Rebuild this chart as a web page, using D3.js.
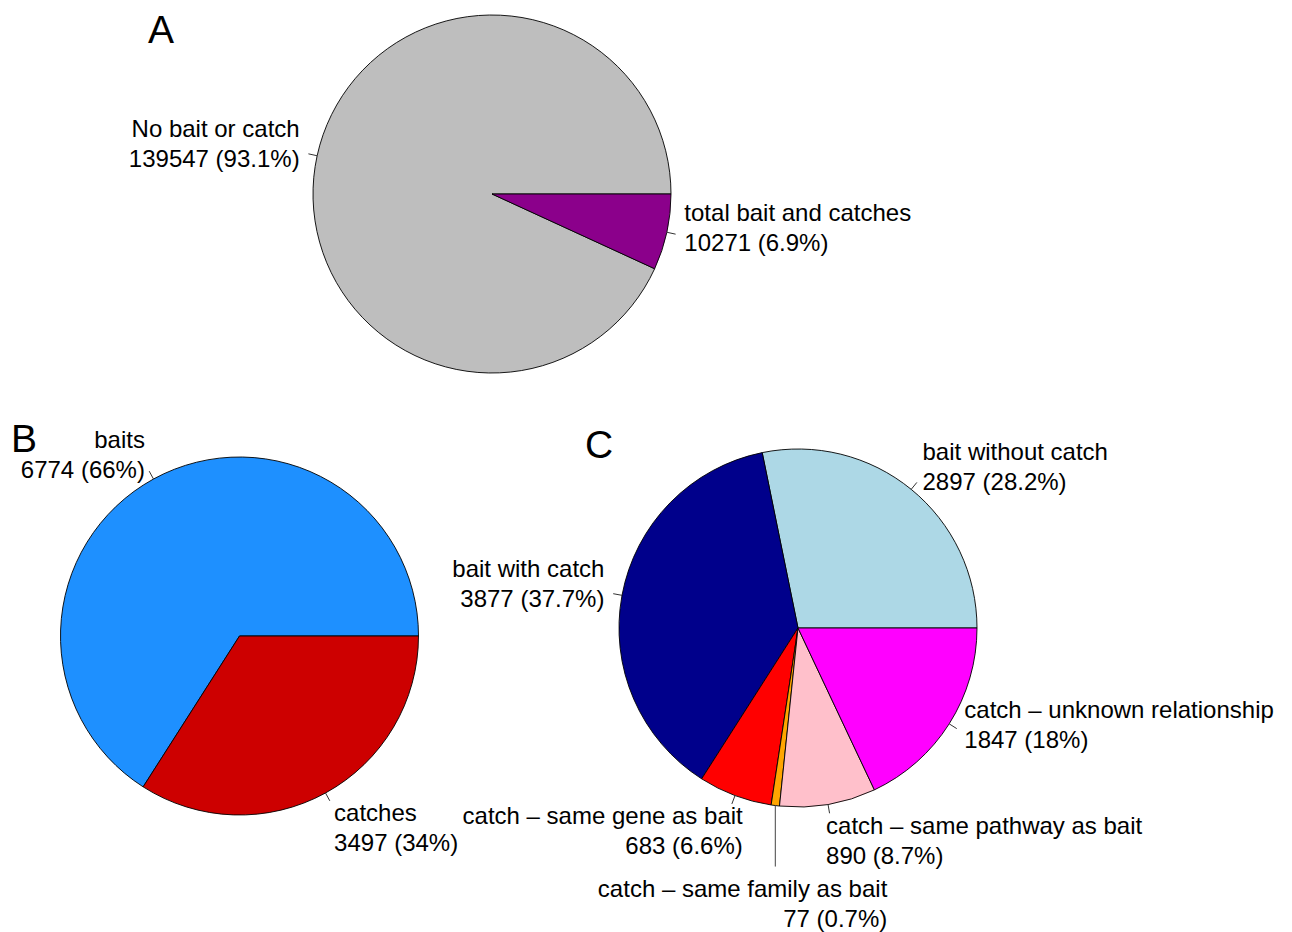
<!DOCTYPE html>
<html>
<head>
<meta charset="utf-8">
<script src="https://cdn.jsdelivr.net/npm/d3@7"></script>
<style>
  html, body { margin: 0; padding: 0; background: #fff; }
  svg { display: block; }
  text { font-family: "Liberation Sans", Arial, Helvetica, sans-serif; fill: #000; }
</style>
</head>
<body>
<svg id="chart" width="1292" height="932"></svg>
<script>
// ---- data ----
// Panel A: all proteins
const overviewNames  = ["No bait or catch", "total bait and catches"];
const overviewValues = [139547, 10271];
const overviewColors = ["#BEBEBE", "#8B008B"];

// Panel B: baits vs catches
const roleNames  = ["baits", "catches"];
const roleValues = [6774, 3497];
const roleColors = ["#1E90FF", "#CD0000"];

// Panel C: breakdown by relationship
const detailNames  = [
  "bait without catch",
  "bait with catch",
  "catch \u2013 same gene as bait",
  "catch \u2013 same family as bait",
  "catch \u2013 same pathway as bait",
  "catch \u2013 unknown relationship"
];
const detailValues = [2897, 3877, 683, 77, 890, 1847];
const detailColors = ["#ADD8E6", "#00008B", "#FF0000", "#FFA500", "#FFC0CB", "#FF00FF"];

const panelLetters = ["A", "B", "C"];

// ---- layout ----
const svg = d3.select("#chart");
svg.append("rect").attr("width", 1292).attr("height", 932).attr("fill", "#fff");

const R = 179;
const FONT = 24;
const LINE = 30;

// label nudges for crowded labels at the bottom of panel C
const labelNudge = {
  "catch \u2013 same gene as bait": { dx: 14, dy: 0 },
  "catch \u2013 same pathway as bait": { dx: -5, dy: 0 }
};
// labels pulled away with a long vertical leader
const dropLabels = {
  "catch \u2013 same family as bait": { drop: 61, textDx: 112, baseline: 30 }
};

// formats a percentage the way R's round(x, 1) prints it
function pct(v, total) {
  return String(+(v / total * 100).toFixed(1));
}

function drawPie(cx, cy, names, values, colors) {
  const g = svg.append("g").attr("transform", `translate(${cx},${cy})`);
  const total = d3.sum(values);
  // start at 3 o'clock and run counter-clockwise
  const pie = d3.pie().sort(null).value(d => d)
    .startAngle(Math.PI / 2).endAngle(Math.PI / 2 - 2 * Math.PI);
  const arcs = pie(values);
  const arc = d3.arc().innerRadius(0).outerRadius(R);

  g.selectAll("path.slice").data(arcs).join("path")
    .attr("class", "slice")
    .attr("d", arc)
    .attr("fill", (d, i) => colors[i])
    .attr("stroke", "#000")
    .attr("stroke-width", 0.9)
    .attr("stroke-linejoin", "round");

  const polar = (rho, a) => [rho * Math.sin(a), -rho * Math.cos(a)];

  arcs.forEach((a, i) => {
    const name = names[i];
    const m = (a.startAngle + a.endAngle) / 2;
    const lines = [name, `${values[i]} (${pct(values[i], total)}%)`];

    if (dropLabels[name]) {
      const cfg = dropLabels[name];
      const [ex, ey] = polar(R, m);
      g.append("line")
        .attr("x1", ex).attr("y1", ey)
        .attr("x2", ex).attr("y2", ey + cfg.drop)
        .attr("stroke", "#444").attr("stroke-width", 1);
      const t = g.append("text")
        .attr("text-anchor", "end")
        .attr("font-size", FONT);
      lines.forEach((s, k) => {
        t.append("tspan")
          .attr("x", ex + cfg.textDx)
          .attr("y", ey + cfg.drop + cfg.baseline + k * LINE)
          .text(s);
      });
      return;
    }

    const [x1, y1] = polar(R, m);
    const [x2, y2] = polar(R * 1.05, m);
    g.append("line")
      .attr("x1", x1).attr("y1", y1).attr("x2", x2).attr("y2", y2)
      .attr("stroke", "#333").attr("stroke-width", 1);

    const [lx, ly] = polar(R * 1.1, m);
    const nudge = labelNudge[name] || { dx: 0, dy: 0 };
    const horiz = Math.sin(m);   // horizontal direction
    const vert = Math.cos(m);    // vertical direction (up positive)
    const anchor = horiz < 0 ? "end" : "start";
    // labels sitting under the bottom of a pie hang below their tick
    const firstBase = vert < -0.8 ? 12 : -15;
    const t = g.append("text")
      .attr("text-anchor", anchor)
      .attr("font-size", FONT);
    lines.forEach((s, k) => {
      t.append("tspan")
        .attr("x", lx + nudge.dx)
        .attr("y", ly + nudge.dy + firstBase + k * LINE)
        .text(s);
    });
  });
}

drawPie(492, 194, overviewNames, overviewValues, overviewColors);
drawPie(239.5, 636, roleNames, roleValues, roleColors);
drawPie(798, 628, detailNames, detailValues, detailColors);

// panel letters
const letterPos = [[148, 43], [11, 452], [585, 458]];
panelLetters.forEach((L, i) => {
  svg.append("text")
    .attr("x", letterPos[i][0]).attr("y", letterPos[i][1])
    .attr("font-size", 39)
    .text(L);
});
</script>
</body>
</html>
